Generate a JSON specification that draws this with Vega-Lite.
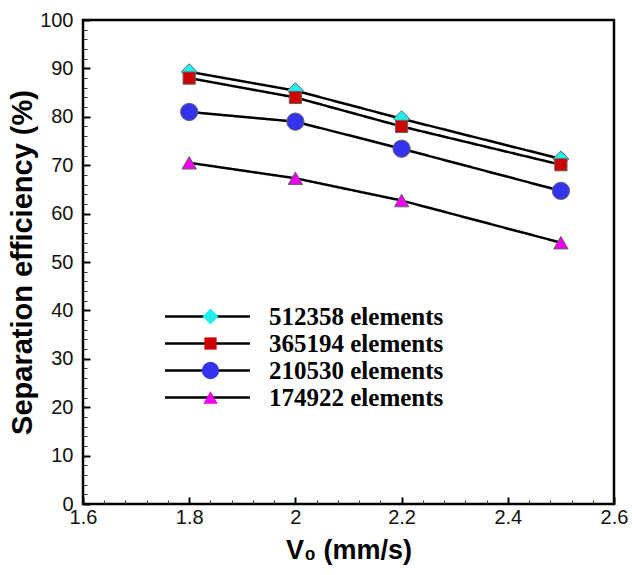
{
  "$schema": "https://vega.github.io/schema/vega-lite/v6.json",
  "width": 531,
  "height": 484,
  "autosize": "none",
  "padding": {"left": 83, "top": 20, "right": 18, "bottom": 71},
  "config": {
    "view": {"stroke": "black", "strokeWidth": 2.5},
    "axis": {"grid": false}
  },
  "data": {
    "values": [
      {"mesh": "512358 elements", "v": 1.8, "eff": 89.3},
      {"mesh": "512358 elements", "v": 2.0, "eff": 85.4},
      {"mesh": "512358 elements", "v": 2.2, "eff": 79.6},
      {"mesh": "512358 elements", "v": 2.5, "eff": 71.3},
      {"mesh": "365194 elements", "v": 1.8, "eff": 88.0},
      {"mesh": "365194 elements", "v": 2.0, "eff": 84.0},
      {"mesh": "365194 elements", "v": 2.2, "eff": 78.0},
      {"mesh": "365194 elements", "v": 2.5, "eff": 70.1},
      {"mesh": "210530 elements", "v": 1.8, "eff": 81.0},
      {"mesh": "210530 elements", "v": 2.0, "eff": 79.0},
      {"mesh": "210530 elements", "v": 2.2, "eff": 73.4},
      {"mesh": "210530 elements", "v": 2.5, "eff": 64.7},
      {"mesh": "174922 elements", "v": 1.8, "eff": 70.5},
      {"mesh": "174922 elements", "v": 2.0, "eff": 67.3},
      {"mesh": "174922 elements", "v": 2.2, "eff": 62.7},
      {"mesh": "174922 elements", "v": 2.5, "eff": 54.0}
    ]
  },
  "layer": [
    {
      "mark": {"type": "line", "color": "black", "strokeWidth": 2.5},
      "encoding": {
        "x": {
          "field": "v", "type": "quantitative",
          "scale": {"domain": [1.6, 2.6], "nice": false, "zero": false},
          "axis": {
            "values": [1.6, 1.8, 2.0, 2.2, 2.4, 2.6],
            "format": ".2~f",
            "domain": false,
            "tickSize": -7, "tickWidth": 2, "tickColor": "black",
            "labelFont": "Liberation Sans", "labelFontSize": 20, "labelColor": "#111",
            "labelPadding": 10, "labelFlush": false,
            "title": "V₀ (mm/s)",
            "titleFont": "Liberation Sans", "titleFontSize": 27, "titleFontWeight": "bold", "titleColor": "black",
            "titlePadding": 10
          }
        },
        "y": {
          "field": "eff", "type": "quantitative",
          "scale": {"domain": [0, 100], "nice": false},
          "axis": {
            "values": [0, 10, 20, 30, 40, 50, 60, 70, 80, 90, 100],
            "format": "d",
            "domain": false,
            "tickSize": -7, "tickWidth": 2, "tickColor": "black",
            "labelFont": "Liberation Sans", "labelFontSize": 20, "labelColor": "#111",
            "labelPadding": 17, "labelFlush": false,
            "title": "Separation efficiency (%)",
            "titleFont": "Liberation Sans", "titleFontSize": 29, "titleFontWeight": "bold", "titleColor": "black",
            "titlePadding": 2
          }
        },
        "strokeDash": {
          "field": "mesh", "type": "nominal", "sort": "descending",
          "scale": {"range": [[1, 0], [1, 0], [1, 0], [1, 0]]},
          "legend": {
            "title": null, "orient": "none", "legendX": 112, "legendY": 284, "padding": 0,
            "symbolType": "M-4,0H4", "symbolSize": 451,
            "symbolStrokeColor": "black", "symbolStrokeWidth": 2.5,
            "labelFont": "Liberation Serif", "labelFontSize": 25, "labelFontWeight": "bold", "labelColor": "black",
            "labelOffset": 49, "labelLimit": 400, "rowPadding": 1
          }
        }
      }
    },
    {
      "mark": {"type": "point", "filled": true, "opacity": 1, "stroke": "#666", "strokeWidth": 1},
      "encoding": {
        "x": {
          "field": "v", "type": "quantitative",
          "scale": {"domain": [1.6, 2.6], "nice": false, "zero": false},
          "axis": {
            "orient": "bottom",
            "values": [1.64, 1.68, 1.72, 1.76, 1.84, 1.88, 1.92, 1.96, 2.04, 2.08, 2.12, 2.16, 2.24, 2.28, 2.32, 2.36, 2.44, 2.48, 2.52, 2.56],
            "labels": false, "domain": false, "title": null,
            "tickSize": -4, "tickWidth": 1, "tickColor": "#333"
          }
        },
        "y": {
          "field": "eff", "type": "quantitative",
          "scale": {"domain": [0, 100], "nice": false},
          "axis": {
            "orient": "left",
            "values": [2, 4, 6, 8, 12, 14, 16, 18, 22, 24, 26, 28, 32, 34, 36, 38, 42, 44, 46, 48, 52, 54, 56, 58, 62, 64, 66, 68, 72, 74, 76, 78, 82, 84, 86, 88, 92, 94, 96, 98],
            "labels": false, "domain": false, "title": null,
            "tickSize": -4, "tickWidth": 1, "tickColor": "#333"
          }
        },
        "fill": {
          "field": "mesh", "type": "nominal",
          "scale": {
            "domain": ["512358 elements", "365194 elements", "210530 elements", "174922 elements"],
            "range": ["#22EEEE", "#CC0000", "#3333EE", "#EE00EE"]
          },
          "legend": {
            "title": null, "orient": "none", "legendX": 115, "legendY": 284, "padding": 0,
            "symbolStrokeColor": "#666", "symbolStrokeWidth": 1,
            "labelExpr": "''", "labelFontSize": 25, "rowPadding": 1
          }
        },
        "shape": {
          "field": "mesh", "type": "nominal",
          "scale": {
            "domain": ["512358 elements", "365194 elements", "210530 elements", "174922 elements"],
            "range": ["diamond", "square", "circle", "triangle-up"]
          },
          "legend": {
            "title": null, "orient": "none", "legendX": 115, "legendY": 284, "padding": 0,
            "symbolStrokeColor": "#666", "symbolStrokeWidth": 1,
            "labelExpr": "''", "labelFontSize": 25, "rowPadding": 1
          }
        },
        "size": {
          "field": "mesh", "type": "nominal",
          "scale": {
            "type": "ordinal",
            "domain": ["512358 elements", "365194 elements", "210530 elements", "174922 elements"],
            "range": [256, 150, 300, 210]
          },
          "legend": {
            "title": null, "orient": "none", "legendX": 115, "legendY": 284, "padding": 0,
            "symbolStrokeColor": "#666", "symbolStrokeWidth": 1,
            "labelExpr": "''", "labelFontSize": 25, "rowPadding": 1
          }
        }
      }
    }
  ],
  "resolve": {"axis": {"x": "independent", "y": "independent"}}
}
